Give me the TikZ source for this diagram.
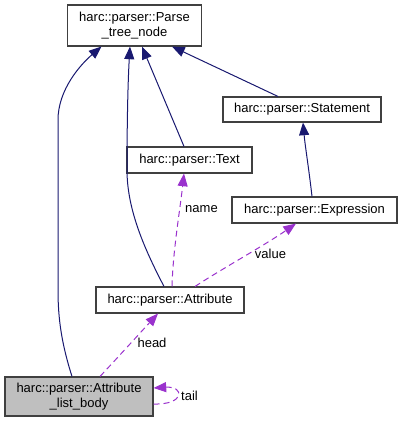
\documentclass[tikz,border=0pt]{standalone}
\usepackage{fontspec}
\setmainfont{Liberation Sans}
\usetikzlibrary{arrows.meta,calc}
\definecolor{inh}{HTML}{191970}
\definecolor{usg}{HTML}{9A32CD}
\definecolor{boxline}{HTML}{404040}
\begin{document}
\begin{tikzpicture}[x=0.75pt,y=-0.75pt,
  cls/.style={draw=boxline,line width=0.8pt,fill=white,inner sep=0pt,align=center,
    font=\fontsize{9.75}{11.25}\selectfont},
  inhedge/.style={draw=inh,line width=0.75pt,-{Triangle[length=9.5pt,width=7.5pt]}},
  usgedge/.style={draw=usg,line width=0.75pt,dash pattern=on 4.5pt off 3pt,
    -{Triangle[length=9.5pt,width=7.5pt,fill=usg]}},
  lbl/.style={inner sep=0pt,font=\fontsize{9.75}{11.25}\selectfont}]
\useasboundingbox (0,0) rectangle (401,423);
\node[cls,minimum width=100.5pt,minimum height=30.75pt] (ptn) at (134.5,25.5) {harc::parser::Parse\\\_tree\_node};
\node[cls,minimum width=118.5pt,minimum height=18.75pt] (stmt) at (302,109.5) {harc::parser::Statement};
\node[cls,minimum width=93.75pt,minimum height=19.5pt] (text) at (189.5,160) {harc::parser::Text};
\node[cls,minimum width=123.75pt,minimum height=19.5pt] (expr) at (314.5,210) {harc::parser::Expression};
\node[cls,minimum width=111pt,minimum height=19.5pt] (attr) at (170,300) {harc::parser::Attribute};
\node[cls,fill=black!25,minimum width=111pt,minimum height=29.25pt] (alb) at (79,396.5) {harc::parser::Attribute\\\_list\_body};
% inheritance
\draw[inhedge] ($(alb.north)+(-7,0)$) .. controls (62,345) and (58,320) .. (58,290) -- (58,120) .. controls (58,90) and (80,65) .. ($(ptn.south)+(-33,0)$);
\draw[inhedge] ($(attr.north)+(-6,0)$) .. controls (145,250) and (127,210) .. (127,170) .. controls (127,120) and (128,80) .. ($(ptn.south)+(-4.5,0)$);
\draw[inhedge] ($(text.north)+(-5.5,0)$) -- ($(ptn.south)+(7.5,0)$);
\draw[inhedge] ($(stmt.north)+(-24,0)$) -- ($(ptn.south)+(37.5,0)$);
\draw[inhedge] ($(expr.north)+(-2.5,0)$) .. controls (309,170) and (305,145) .. ($(stmt.south)+(1,0)$);
% usage
\draw[usgedge] ($(attr.north)+(2,0)$) .. controls (173,250) and (180,210) .. ($(text.south)+(-5.5,0)$);
\node[lbl] (lname) at (201.5,209) {name};
\draw[usgedge] ($(attr.north)+(25,0)$) .. controls (220,270) and (265,245) .. ($(expr.south)+(-18.5,0)$);
\node[lbl] (lvalue) at (270.5,254) {value};
\draw[usgedge] ($(alb.north)+(21,0)$) .. controls (120,355) and (140,333) .. ($(attr.south)+(-12,0)$);
\node[lbl] (lhead) at (152,343) {head};
\draw[usgedge] ($(alb.east)+(0,7.5)$) .. controls (185,405) and (185,386) .. ($(alb.east)+(0,-8.5)$);
\node[lbl] (ltail) at (189.5,396) {tail};
\end{tikzpicture}
\end{document}
